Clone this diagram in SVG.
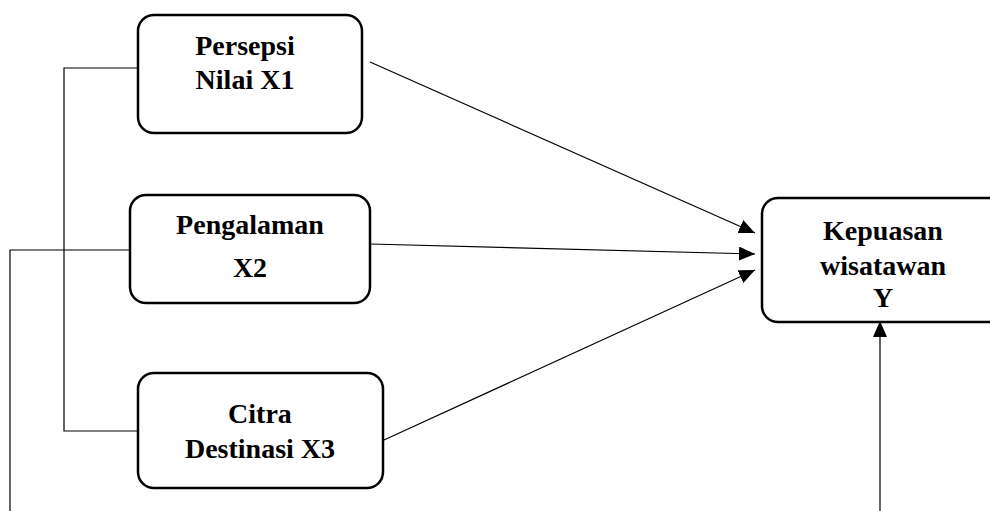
<svg xmlns="http://www.w3.org/2000/svg" width="990" height="511" viewBox="0 0 990 511">
<style>
.box{fill:#fff;stroke:#000;stroke-width:2.5}
.t{font-family:"Liberation Serif","Times New Roman",serif;font-weight:bold;font-size:28px;fill:#000;text-anchor:middle}
.ln{fill:none;stroke:#000;stroke-width:1.2}
</style>
<defs>
<marker id="ah" markerUnits="userSpaceOnUse" markerWidth="16" markerHeight="14" refX="16" refY="7" orient="auto">
<path d="M0,0 L16,7 L0,14 Z" fill="#000"/>
</marker>
</defs>
<rect width="990" height="511" fill="#fff"/>
<g id="connectors">
<polyline class="ln" points="138,68 64,68 64,431 138,431"/>
<polyline class="ln" points="130,250 10,250 10,511"/>
<line class="ln" x1="370" y1="62" x2="755" y2="233" marker-end="url(#ah)"/>
<line class="ln" x1="370" y1="244" x2="755" y2="254" marker-end="url(#ah)"/>
<line class="ln" x1="384" y1="440" x2="755" y2="270" marker-end="url(#ah)"/>
<line class="ln" x1="880" y1="511" x2="880" y2="321" marker-end="url(#ah)"/>
</g>
<g id="x1">
<rect class="box" x="138" y="15" width="224" height="118" rx="16"/>
<text class="t" x="245" y="55">Persepsi</text>
<text class="t" x="245" y="89">Nilai X1</text>
</g>
<g id="x2">
<rect class="box" x="130" y="195" width="240" height="108" rx="16"/>
<text class="t" x="250" y="234">Pengalaman</text>
<text class="t" x="250" y="277">X2</text>
</g>
<g id="x3">
<rect class="box" x="138" y="373" width="245" height="115" rx="16"/>
<text class="t" x="260" y="423">Citra</text>
<text class="t" x="260" y="458">Destinasi X3</text>
</g>
<g id="y">
<rect class="box" x="762" y="198" width="250" height="124" rx="16"/>
<text class="t" x="883" y="240">Kepuasan</text>
<text class="t" x="883" y="275">wisatawan</text>
<text class="t" x="883" y="307">Y</text>
</g>
</svg>
